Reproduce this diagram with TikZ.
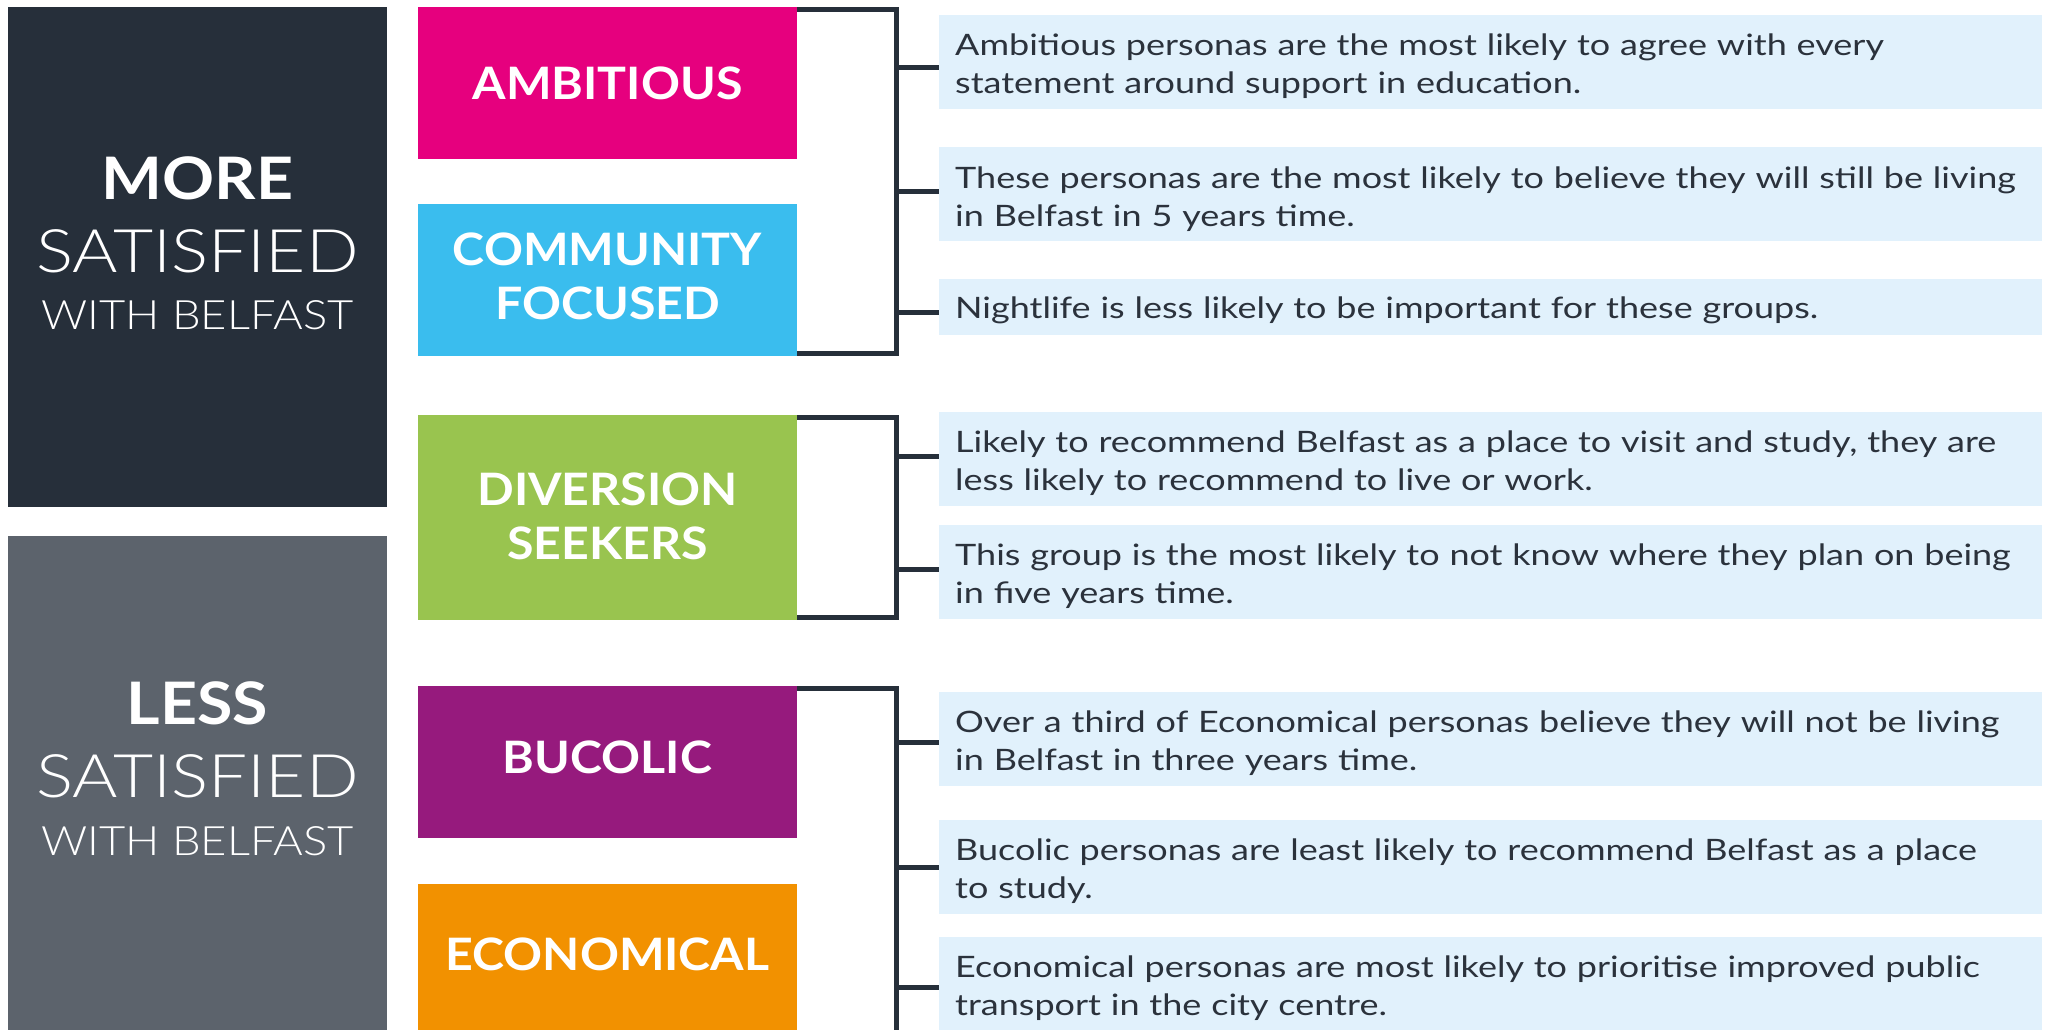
\documentclass[tikz,border=0pt]{standalone}
\usepackage{fontspec}
\setmainfont{Lato}
\newfontfamily\bodyfont[FakeStretch=1.22]{Lato}
\newfontfamily\tagfont[FakeStretch=1.08]{Lato}
\newfontfamily\headfont[FakeStretch=1.1]{Lato}
\newfontfamily\lightfont[FakeStretch=1.12]{Lato Light}
\newfontfamily\widelightfont[FakeStretch=1.155]{Lato Light}
\usetikzlibrary{calc}

\definecolor{ink}{HTML}{262F3A}
\definecolor{slate}{HTML}{5C636C}
\definecolor{bodytext}{HTML}{2B323C}
\definecolor{notefill}{HTML}{E1F1FC}
\definecolor{ambc}{HTML}{E6007E}
\definecolor{comc}{HTML}{3ABDEE}
\definecolor{divc}{HTML}{99C44F}
\definecolor{bucc}{HTML}{961A7D}
\definecolor{ecoc}{HTML}{F29100}

\begin{document}
\begin{tikzpicture}[x=1pt,y=-1pt,
  tile/.style={fill=#1, draw=none, inner sep=0pt, anchor=north west, minimum width=379},
  note/.style={fill=notefill, draw=none, inner sep=0pt, anchor=north west, minimum width=1103},
  notetext/.style={font=\bodyfont\fontsize{29.5}{38}\selectfont, text=bodytext, align=left,
    text width=1080, inner sep=0pt, anchor=base west},
  tag/.style={font=\tagfont\bfseries\fontsize{44.7}{54}\selectfont, text=white, align=center,
    text width=379, inner sep=0pt, anchor=base},
  bigbold/.style={font=\headfont\bfseries\fontsize{58.6}{60}\selectfont, text=white, inner sep=0pt, anchor=base},
  bigreg/.style={font=\widelightfont\fontsize{60}{60}\selectfont, text=white, inner sep=0pt, anchor=base},
  smallreg/.style={font=\lightfont\fontsize{40.5}{42}\selectfont, text=white, inner sep=0pt, anchor=base},
  brk/.style={draw=ink, line width=5pt}]

\useasboundingbox (0,0) rectangle (2049,1029);
\clip (0,0) rectangle (2049,1029);

% satisfaction panels
\node[tile=ink, minimum height=500] (more) at (8,7) {};
\node[tile=slate, minimum height=500] (less) at (8,536) {};
\node[bigbold] (moreA) at (197.5,199) {MORE};
\node[bigreg] (moreB) at (197.5,272) {SATISFIED};
\node[smallreg] (moreC) at (197.5,329) {WITH BELFAST};
\node[bigbold] (lessA) at (197.5,724) {LESS};
\node[bigreg] (lessB) at (197.5,797) {SATISFIED};
\node[smallreg] (lessC) at (197.5,855) {WITH BELFAST};

% persona tiles
\node[tile=ambc, minimum height=152] (amb) at (418,7) {};
\node[tile=comc, minimum height=152] (com) at (418,204) {};
\node[tile=divc, minimum height=205] (div) at (418,415) {};
\node[tile=bucc, minimum height=152] (buc) at (418,686) {};
\node[tile=ecoc, minimum height=152] (eco) at (418,884) {};
\node[tag] (ambt) at (607.5,99) {AMBITIOUS};
\node[tag] (comt) at (607.5,265) {COMMUNITY\\FOCUSED};
\node[tag] (divt) at (607.5,505) {DIVERSION\\SEEKERS};
\node[tag] (buct) at (607.5,773) {BUCOLIC};
\node[tag] (ecot) at (607.5,970) {ECONOMICAL};

% notes
\node[note, minimum height=94] (n1) at (939,15) {};
\node[note, minimum height=94] (n2) at (939,147) {};
\node[note, minimum height=56] (n3) at (939,279) {};
\node[note, minimum height=94] (n4) at (939,412) {};
\node[note, minimum height=94] (n5) at (939,525) {};
\node[note, minimum height=94] (n6) at (939,692) {};
\node[note, minimum height=94] (n7) at (939,820) {};
\node[note, minimum height=94] (n8) at (939,937) {};

\node[notetext] (n1t) at (955,55) {Ambitious personas are the most likely to agree with every\\statement around support in education.};
\node[notetext] (n2t) at (955,188) {These personas are the most likely to believe they will still be living\\in Belfast in 5 years time.};
\node[notetext] (n3t) at (955,318) {Nightlife is less likely to be important for these groups.};
\node[notetext] (n4t) at (955,452) {Likely to recommend Belfast as a place to visit and study, they are\\less likely to recommend to live or work.};
\node[notetext] (n5t) at (955,565) {This group is the most likely to not know where they plan on being\\in five years time.};
\node[notetext] (n6t) at (955,732) {Over a third of Economical personas believe they will not be living\\in Belfast in three years time.};
\node[notetext] (n7t) at (955,860) {Bucolic personas are least likely to recommend Belfast as a place\\to study.};
\node[notetext] (n8t) at (955,977) {Economical personas are most likely to prioritise improved public\\transport in the city centre.};

% brackets
\coordinate (k) at (896.5,0);
\coordinate (kend) at (896.5,1045);
\coordinate (b1a) at ([yshift=-2pt]amb.north east);
\coordinate (b1b) at ([yshift=2.5pt]com.south east);
\coordinate (b2a) at ([yshift=-2.5pt]div.north east);
\coordinate (b2b) at ([yshift=2.5pt]div.south east);
\coordinate (b3a) at ([yshift=-2pt]buc.north east);
\draw[brk] (b1a) -| (k |- b1b) -- (b1b);
\draw[brk] (b2a) -| (k |- b2b) -- (b2b);
\draw[brk] (b3a) -| (kend);

% stubs to notes
\coordinate (s1) at (896.5,67.5);
\coordinate (s2) at (896.5,191);
\coordinate (s3) at (896.5,312);
\coordinate (s4) at (896.5,456);
\coordinate (s5) at (896.5,569);
\coordinate (s6) at (896.5,742);
\coordinate (s7) at (896.5,867);
\coordinate (s8) at (896.5,987.5);
\foreach \i in {1,...,8} {
  \draw[brk] (s\i) -- (s\i -| n\i.west);
}
\end{tikzpicture}
\end{document}
